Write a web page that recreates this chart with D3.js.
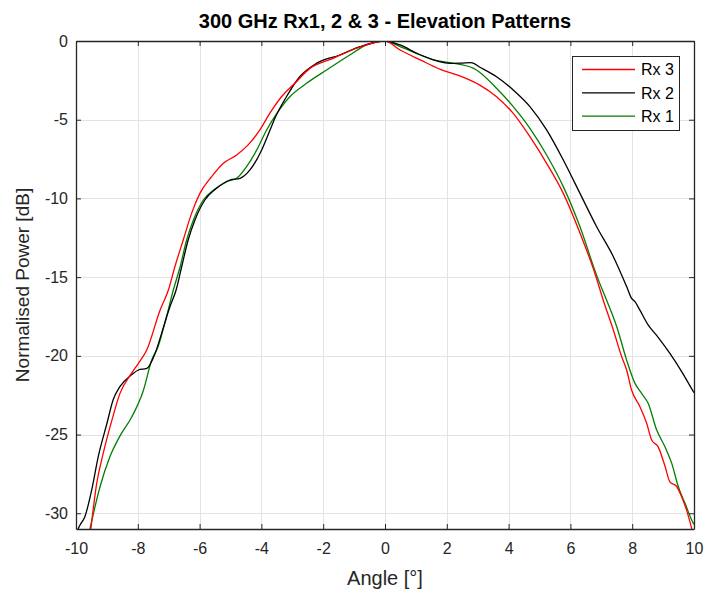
<!DOCTYPE html>
<html>
<head>
<meta charset="utf-8">
<script src="https://cdn.jsdelivr.net/npm/d3@7"></script>
<style>
  html, body { margin: 0; padding: 0; background: #fff; }
  svg text { font-family: "Liberation Sans", Arial, Helvetica, sans-serif; }
</style>
</head>
<body>
<svg id="chart" width="708" height="594"></svg>
<script>
// Elevation patterns of the three 300 GHz receivers (normalised power, dB)
const xTicks = [-10, -8, -6, -4, -2, 0, 2, 4, 6, 8, 10];
const yTicks = [0, -5, -10, -15, -20, -25, -30];

const rx3Angle = [-9.52, -9.33, -9.12, -8.84, -8.58, -8.20, -7.98, -7.71, -7.28, -7.01, -6.80, -6.53, -6.26, -5.99, -5.61, -5.23, -4.80, -4.43, -4.05, -3.73, -3.35, -2.95, -2.43, -1.68, -0.92, 0, 0.49, 1.14, 1.79, 2.40, 3.07, 3.61, 4.15, 4.69, 5.23, 5.77, 6.31, 6.80, 7.06, 7.39, 7.66, 7.82, 7.98, 8.25, 8.47, 8.63, 8.84, 9.06, 9.22, 9.44, 9.60, 9.76, 9.93];
const rx3Power = [-31.0, -28.1, -26.2, -24.1, -22.4, -21.1, -20.48, -19.63, -17.1, -15.82, -14.34, -12.64, -10.95, -9.68, -8.62, -7.77, -7.24, -6.6, -5.65, -4.6, -3.54, -2.75, -1.74, -1.1, -0.46, 0, -0.57, -1.2, -1.8, -2.2, -2.8, -3.54, -4.6, -6.08, -7.77, -9.68, -12.2, -14.8, -16.45, -18.36, -20.06, -20.9, -22.17, -23.23, -24.3, -25.35, -25.78, -27.0, -28.0, -28.3, -28.95, -29.8, -31.0];

const rx2Angle = [-10.0, -9.87, -9.71, -9.49, -9.28, -9.0, -8.8, -8.58, -8.2, -7.98, -7.71, -7.44, -7.23, -6.96, -6.76, -6.58, -6.37, -6.15, -5.83, -5.45, -5.02, -4.69, -4.37, -3.99, -3.72, -3.55, -3.19, -2.76, -2.22, -1.46, -0.81, 0, 0.49, 1.03, 1.57, 2.11, 2.5, 2.78, 3.1, 3.61, 4.15, 4.69, 5.23, 5.77, 6.31, 6.85, 7.39, 7.82, 7.98, 8.09, 8.25, 8.52, 8.79, 9.22, 9.60, 10.0];
const rx2Power = [-31.3, -30.75, -30.2, -28.5, -26.4, -24.3, -22.8, -21.96, -21.2, -20.9, -20.8, -19.85, -18.57, -16.88, -15.82, -14.34, -12.64, -11.37, -10.1, -9.36, -8.83, -8.72, -8.19, -6.92, -5.65, -4.85, -3.54, -2.27, -1.42, -0.89, -0.36, 0, -0.25, -0.78, -1.2, -1.42, -1.4, -1.38, -1.7, -2.27, -3.11, -4.17, -5.65, -7.56, -9.68, -11.8, -13.7, -15.6, -16.35, -16.56, -17.1, -18.05, -18.7, -19.85, -21.0, -22.35];

const rx1Angle = [-9.55, -9.22, -8.9, -8.58, -8.2, -7.82, -7.55, -7.34, -7.07, -6.85, -6.63, -6.42, -6.2, -5.88, -5.55, -5.12, -4.8, -4.48, -4.15, -3.83, -3.5, -3.08, -2.54, -1.89, -1.14, -0.6, 0, 0.49, 1.14, 1.68, 2.11, 2.87, 3.07, 3.61, 4.15, 4.69, 5.23, 5.77, 6.31, 6.87, 7.17, 7.5, 7.82, 8.09, 8.31, 8.52, 8.79, 9.06, 9.28, 9.49, 9.71, 9.98, 10.0];
const rx1Power = [-31.0, -28.3, -26.4, -25.1, -23.9, -22.2, -20.27, -19.4, -17.5, -15.82, -14.34, -12.64, -11.37, -10.1, -9.47, -8.94, -8.72, -7.98, -6.92, -5.65, -4.6, -3.54, -2.69, -1.84, -0.89, -0.25, 0, -0.36, -0.89, -1.25, -1.38, -1.74, -2.0, -3.0, -4.17, -5.55, -7.24, -9.25, -11.8, -15.0, -16.45, -18.15, -20.27, -21.75, -22.4, -23.03, -24.7, -25.78, -26.83, -28.3, -29.37, -30.64, -30.7];

const series = [
  { name: "Rx 3", color: "#ff0000", angle: rx3Angle, power: rx3Power },
  { name: "Rx 2", color: "#000000", angle: rx2Angle, power: rx2Power },
  { name: "Rx 1", color: "#008000", angle: rx1Angle, power: rx1Power }
];

const svg = d3.select("#chart");
const plot = { left: 76, right: 694, top: 41, bottom: 529 };
const axisColor = "#262626";
const fontStack = '"Liberation Sans", Arial, Helvetica, sans-serif';

const x = d3.scaleLinear().domain([-10, 10]).range([plot.left, plot.right]);
const y = d3.scaleLinear().domain([-31, 0]).range([plot.bottom, plot.top]);

// white plotting area
svg.append("rect")
  .attr("x", plot.left).attr("y", plot.top)
  .attr("width", plot.right - plot.left).attr("height", plot.bottom - plot.top)
  .attr("fill", "#fff");

// grid lines
const grid = svg.append("g").attr("stroke", "#e3e3e3").attr("stroke-width", 1);
grid.selectAll("line.gx").data(xTicks).join("line")
  .attr("x1", d => Math.round(x(d)) + 0.5).attr("x2", d => Math.round(x(d)) + 0.5)
  .attr("y1", plot.top).attr("y2", plot.bottom);
grid.selectAll("line.gy").data(yTicks).join("line")
  .attr("y1", d => Math.round(y(d)) + 0.5).attr("y2", d => Math.round(y(d)) + 0.5)
  .attr("x1", plot.left).attr("x2", plot.right);

// curves, clipped to the axes box
svg.append("defs").append("clipPath").attr("id", "plotClip")
  .append("rect")
  .attr("x", plot.left).attr("y", plot.top)
  .attr("width", plot.right - plot.left).attr("height", plot.bottom - plot.top);

const line = d3.line()
  .x(d => x(d[0]))
  .y(d => y(d[1]))
  .curve(d3.curveMonotoneX);

const curves = svg.append("g").attr("clip-path", "url(#plotClip)");
series.slice().reverse().forEach(s => {
  curves.append("path")
    .datum(s.angle.map((a, i) => [a, s.power[i]]))
    .attr("fill", "none")
    .attr("stroke", s.color)
    .attr("stroke-width", 1.3)
    .attr("stroke-linejoin", "round")
    .attr("d", line);
});

// axes: ticks pointing inward on all four sides
const tickLen = 5;
const axBottom = svg.append("g")
  .attr("transform", `translate(0,${plot.bottom})`)
  .call(d3.axisBottom(x).tickValues(xTicks).tickSizeInner(-tickLen).tickSizeOuter(0).tickPadding(14));
const axTop = svg.append("g")
  .attr("transform", `translate(0,${plot.top})`)
  .call(d3.axisTop(x).tickValues(xTicks).tickSizeInner(-tickLen).tickSizeOuter(0).tickFormat(""));
const axLeft = svg.append("g")
  .attr("transform", `translate(${plot.left},0)`)
  .call(d3.axisLeft(y).tickValues(yTicks).tickSizeInner(-tickLen).tickSizeOuter(0).tickPadding(8));
const axRight = svg.append("g")
  .attr("transform", `translate(${plot.right},0)`)
  .call(d3.axisRight(y).tickValues(yTicks).tickSizeInner(-tickLen).tickSizeOuter(0).tickFormat(""));

[axBottom, axTop, axLeft, axRight].forEach(g => {
  g.select(".domain").attr("stroke", axisColor).attr("stroke-width", 1.3);
  g.selectAll(".tick line").attr("stroke", axisColor).attr("stroke-width", 1);
  g.selectAll(".tick text")
    .attr("fill", axisColor)
    .style("font-size", "16px")
    .style("font-family", fontStack);
});
// plain hyphen for negative tick values
axLeft.selectAll(".tick text").text(d => String(d));
axBottom.selectAll(".tick text").text(d => String(d));

// title and axis labels
svg.append("text")
  .attr("x", (plot.left + plot.right) / 2).attr("y", 28)
  .attr("text-anchor", "middle")
  .attr("font-weight", "bold")
  .attr("font-size", 20)
  .attr("fill", "#000")
  .text("300 GHz Rx1, 2 & 3 - Elevation Patterns");

svg.append("text")
  .attr("x", (plot.left + plot.right) / 2).attr("y", 585)
  .attr("text-anchor", "middle")
  .attr("font-size", 20)
  .attr("fill", axisColor)
  .text("Angle [°]");

svg.append("text")
  .attr("transform", `translate(29,${(plot.top + plot.bottom) / 2}) rotate(-90)`)
  .attr("text-anchor", "middle")
  .attr("font-size", 19)
  .attr("fill", axisColor)
  .text("Normalised Power [dB]");

// legend
const legend = svg.append("g");
legend.append("rect")
  .attr("x", 572.5).attr("y", 56.5).attr("width", 107).attr("height", 74)
  .attr("fill", "#fff").attr("stroke", axisColor).attr("stroke-width", 1);
series.forEach((s, i) => {
  const ly = 69.5 + i * 23.3;
  legend.append("line")
    .attr("x1", 582).attr("x2", 635).attr("y1", ly).attr("y2", ly)
    .attr("stroke", s.color).attr("stroke-width", 1.3);
  legend.append("text")
    .attr("x", 641).attr("y", ly).attr("dy", "0.36em")
    .attr("font-size", 16).attr("fill", "#000")
    .text(s.name);
});
</script>
</body>
</html>
